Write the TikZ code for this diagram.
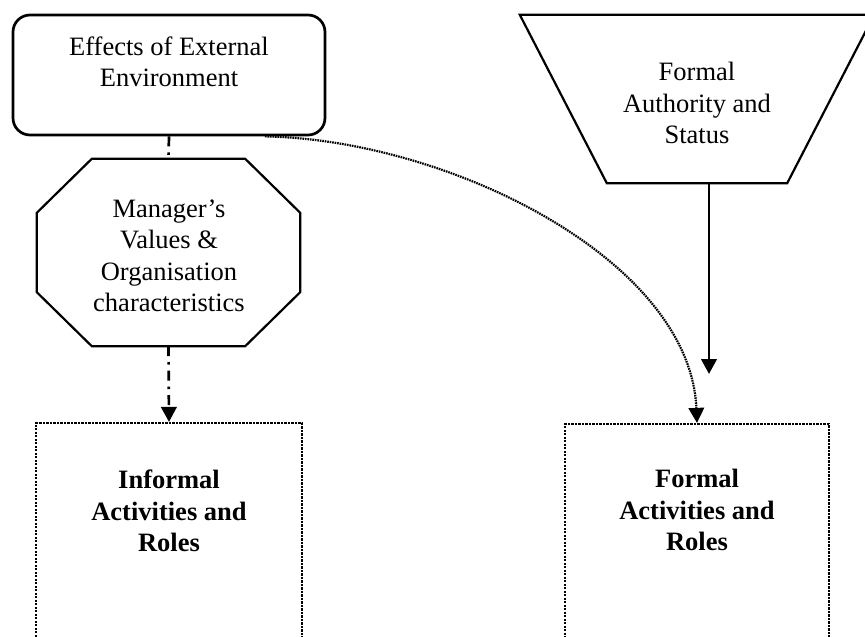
\documentclass[tikz,border=0pt]{standalone}
\usepackage{fontspec}
\setmainfont{Liberation Serif}
\usetikzlibrary{arrows.meta,calc}

\begin{document}
\begin{tikzpicture}[x=1pt,y=-1pt,
  txt/.style={font=\fontsize{26.5}{31.5}\selectfont, align=center, inner sep=0pt},
  btxt/.style={txt, font=\fontsize{26.5}{31.5}\selectfont\bfseries},
  roundbox/.style={draw, line width=2.7pt, rounded corners=17pt, minimum width=312pt, minimum height=120pt, inner sep=0pt},
  frame/.style={minimum width=#1, inner sep=0pt},
  shapeline/.style={line width=2.2pt, line join=miter},
  dotbox/.style={draw, line width=2.2pt, dash pattern=on 2.2pt off 1.3pt, minimum height=240pt, inner sep=0pt},
  tip/.style={-{Triangle[length=15pt,width=15.5pt]}},
  dashdot/.style={line width=2.7pt, dash pattern=on 10pt off 6pt on 2.5pt off 6pt},
  finedot/.style={line width=2.2pt, dash pattern=on 1.6pt off 0.9pt}
]
\useasboundingbox (0,0) rectangle (865,637);
\clip (0,0) rectangle (865,637);

% external environment
\node[roundbox] (effects) at (169,75) {};
\node[txt] (effects-text) at (169,62) {Effects of External\\Environment};

% manager's values (octagon built on an invisible frame)
\node[frame=263pt, minimum height=187pt] (values) at (168.5,252.5) {};
\draw[shapeline] ([xshift=55pt]values.north west) -- ([xshift=-55pt]values.north east)
  -- ([yshift=-54pt]values.north east) -- ([yshift=54pt]values.south east)
  -- ([xshift=-55pt]values.south east) -- ([xshift=55pt]values.south west)
  -- ([yshift=54pt]values.south west) -- ([yshift=-54pt]values.north west) -- cycle;
\node[txt] (values-text) at (169,256) {Manager’s\\Values \&\\Organisation\\characteristics};

% formal authority (inverted trapezium)
\node[frame=354pt, minimum height=168pt] (authority) at (697,99) {};
\draw[shapeline] (authority.north west) -- (authority.north east)
  -- ([xshift=-87pt]authority.south east) -- ([xshift=87pt]authority.south west) -- cycle;
\node[txt] (authority-text) at (697,103) {Formal\\Authority and\\Status};

% activity boxes
\node[dotbox, minimum width=266pt] (informal) at (169,543) {};
\node[btxt] (informal-text) at (169,511) {Informal\\Activities and\\Roles};
\node[dotbox, minimum width=264pt] (formal) at (697,544) {};
\node[btxt] (formal-text) at (697,510) {Formal\\Activities and\\Roles};

% connectors
\draw[dashdot] (effects.south) -- (values.north);
\draw[dashdot, tip] (values.south) -- (informal.north);
\draw[finedot, tip] ([xshift=96pt]effects.south) .. controls (450,140) and (690,260) .. (formal.north);
\coordinate (auth-end) at (709,374);
\draw[line width=2.7pt, tip] ([xshift=12pt]authority.south) -- (auth-end);
\end{tikzpicture}
\end{document}
